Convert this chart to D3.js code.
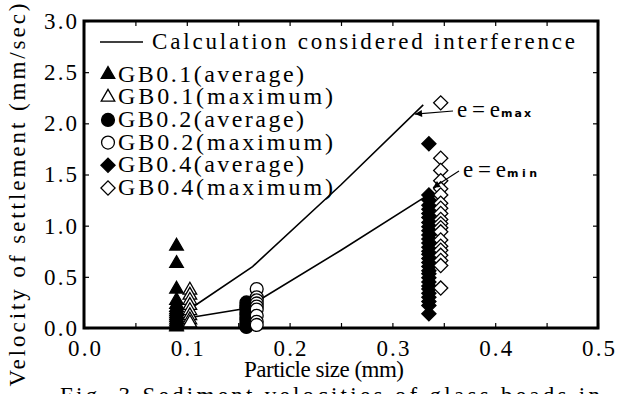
<!DOCTYPE html>
<html>
<head>
<meta charset="utf-8">
<script src="https://cdn.jsdelivr.net/npm/d3@7"></script>
<style>
    body { margin: 0; background: #fff; }
    svg { display: block; }
    svg text { font-family: "Liberation Serif", "Times New Roman", serif; fill: #000; }
</style>
</head>
<body>
<div id="chart"></div>
<script>
// settling velocities (mm/sec) per glass-bead group, each group plotted at one particle size (mm)
const gb01AvgSize = 0.09;
const gb01Avg = [0.80, 0.63, 0.38, 0.27, 0.23, 0.20, 0.18, 0.16, 0.14, 0.12, 0.10, 0.08, 0.06, 0.04, 0.02, 0.01];
const gb01MaxSize = 0.103;
const gb01Max = [0.37, 0.32, 0.27, 0.22, 0.17, 0.12, 0.08, 0.05];
const gb02AvgSize = 0.158;
const gb02Avg = [0.25, 0.22, 0.20, 0.18, 0.15, 0.13, 0.10, 0.08, 0.05, 0.03, 0.01];
const gb02MaxSize = 0.168;
const gb02Max = [0.38, 0.30, 0.27, 0.24, 0.21, 0.18, 0.12, 0.06, 0.03];
const gb04AvgSize = 0.3355;
const gb04Avg = [1.80, 1.30, 1.25, 1.20, 1.16, 1.12, 1.08, 1.03, 0.99, 0.95, 0.91, 0.87, 0.83, 0.79, 0.75,
    0.72, 0.68, 0.64, 0.60, 0.56, 0.53, 0.49, 0.45, 0.41, 0.38, 0.34, 0.30, 0.26, 0.22, 0.14];
const gb04MaxSize = 0.347;
const gb04Max = [2.20, 1.66, 1.54, 1.44, 1.36, 1.30, 1.22, 1.17, 1.12, 1.06, 1.02, 0.98, 0.94, 0.86, 0.80,
    0.76, 0.71, 0.66, 0.61, 0.39];

// calculated curves (interference considered)
const curveSizes = [0.108, 0.164, 0.25, 0.33];
const curveEmax = [0.22, 0.60, 1.40, 2.18];
const curveSizesMin = [0.108, 0.157, 0.25, 0.338];
const curveEmin = [0.11, 0.19, 0.76, 1.32];

const xTicks = [0, 0.05, 0.1, 0.15, 0.2, 0.25, 0.3, 0.35, 0.4, 0.45, 0.5];
const yTicks = [0, 0.5, 1.0, 1.5, 2.0, 2.5, 3.0];

const legendLabels = ["GB0.1(average)", "GB0.1(maximum)", "GB0.2(average)",
    "GB0.2(maximum)", "GB0.4(average)", "GB0.4(maximum)"];

const W = 617, H = 394;
const x = d3.scaleLinear().domain([0, 0.5]).range([84, 598]);
const y = d3.scaleLinear().domain([0, 3]).range([328, 21]);

const svg = d3.select("#chart")
    .append("svg")
    .attr("width", W)
    .attr("height", H);

const tri = d3.symbol().type(d3.symbolTriangle).size(80);
const circ = d3.symbol().type(d3.symbolCircle).size(130);
const sq = d3.symbol().type(d3.symbolSquare).size(100);

const groups = [
    { size: gb01AvgSize, vals: gb01Avg, path: tri(), rot: 0, filled: true },
    { size: gb01MaxSize, vals: gb01Max, path: tri(), rot: 0, filled: false },
    { size: gb02AvgSize, vals: gb02Avg, path: circ(), rot: 0, filled: true },
    { size: gb02MaxSize, vals: gb02Max, path: circ(), rot: 0, filled: false },
    { size: gb04AvgSize, vals: gb04Avg, path: sq(), rot: 45, filled: true },
    { size: gb04MaxSize, vals: gb04Max, path: sq(), rot: 45, filled: false }
];

// spread a text's letters out to a given width
function fit(sel, w) {
    sel.attr("lengthAdjust", "spacing").attr("textLength", w);
}

// ticks on all four sides, pointing inward
const fmt = d3.format(".1f");

svg.append("g")
    .attr("transform", `translate(0,${y(0)})`)
    .call(d3.axisBottom(x).tickValues(xTicks).tickSizeInner(-5).tickSizeOuter(0).tickPadding(12)
        .tickFormat(d => Math.round(d * 100) % 10 === 0 ? fmt(d) : ""));
svg.append("g")
    .attr("transform", `translate(0,${y(3)})`)
    .call(d3.axisTop(x).tickValues(xTicks).tickSizeInner(-5).tickSizeOuter(0).tickFormat(""));
svg.append("g")
    .attr("transform", `translate(${x(0)},0)`)
    .call(d3.axisLeft(y).tickValues(yTicks).tickSizeInner(-5).tickSizeOuter(0).tickPadding(7).tickFormat(fmt));
svg.append("g")
    .attr("transform", `translate(${x(0.5)},0)`)
    .call(d3.axisRight(y).tickValues(yTicks).tickSizeInner(-5).tickSizeOuter(0).tickFormat(""));

svg.selectAll(".domain").remove();
svg.selectAll(".tick line").attr("stroke", "#000").attr("stroke-width", 1.2);
svg.selectAll(".tick text")
    .style("font-size", "23px")
    .call(fit, 33);

svg.append("rect")
    .attr("x", x(0))
    .attr("y", y(3))
    .attr("width", x(0.5) - x(0))
    .attr("height", y(0) - y(3))
    .attr("fill", "none")
    .attr("stroke", "#000")
    .attr("stroke-width", 3);

// calculated curves
const line = d3.line().x(d => x(d[0])).y(d => y(d[1]));
svg.append("path")
    .datum(d3.zip(curveSizes, curveEmax))
    .attr("d", line)
    .attr("fill", "none")
    .attr("stroke", "#000")
    .attr("stroke-width", 1.6);
svg.append("path")
    .datum(d3.zip(curveSizesMin, curveEmin))
    .attr("d", line)
    .attr("fill", "none")
    .attr("stroke", "#000")
    .attr("stroke-width", 1.6);

// measured points
groups.forEach(g => {
    svg.append("g")
        .selectAll("path")
        .data(g.vals)
        .enter()
        .append("path")
        .attr("d", g.path)
        .attr("transform", d => `translate(${x(g.size)},${y(d)}) rotate(${g.rot})`)
        .attr("fill", g.filled ? "#000" : "#fff")
        .attr("stroke", "#000")
        .attr("stroke-width", 1.3);
});

// legend
svg.append("line")
    .attr("x1", 100).attr("x2", 143)
    .attr("y1", 42).attr("y2", 42)
    .attr("stroke", "#000")
    .attr("stroke-width", 1.3);
svg.append("text")
    .attr("x", 152)
    .attr("y", 49)
    .style("font-size", "23px")
    .text("Calculation considered interference")
    .call(fit, 423);

const legend = svg.selectAll(".legend")
    .data(legendLabels)
    .enter().append("g")
    .attr("class", "legend")
    .attr("transform", (d, i) => `translate(0,${81.5 + i * 22.7})`);

legend.append("path")
    .attr("d", (d, i) => groups[i].path)
    .attr("transform", (d, i) => `translate(108,-7) rotate(${groups[i].rot})`)
    .attr("fill", (d, i) => groups[i].filled ? "#000" : "#fff")
    .attr("stroke", "#000")
    .attr("stroke-width", 1.3);

legend.append("text")
    .attr("x", 118)
    .attr("y", 0)
    .style("font-size", "24px")
    .text(d => d)
    .each(function (d, i) { fit(d3.select(this), i % 2 === 0 ? 186 : 215); });

// curve annotations with arrows
svg.append("defs").append("marker")
    .attr("id", "arrow")
    .attr("viewBox", "0 0 10 10")
    .attr("refX", 10).attr("refY", 5)
    .attr("markerWidth", 10).attr("markerHeight", 7)
    .attr("markerUnits", "userSpaceOnUse")
    .attr("orient", "auto")
    .append("path")
    .attr("d", "M0,0L10,5L0,10Z")
    .attr("fill", "#000");

function note(tipX, tipY, tx, ty, sub) {
    svg.append("line")
        .attr("x1", tx - 4).attr("y1", ty - 6)
        .attr("x2", x(tipX)).attr("y2", y(tipY))
        .attr("stroke", "#000")
        .attr("stroke-width", 1.1)
        .attr("marker-end", "url(#arrow)");
    svg.append("text")
        .attr("x", tx)
        .attr("y", ty)
        .style("font-size", "23px")
        .text("e=e")
        .call(fit, 43);
    svg.append("text")
        .attr("x", tx + 44)
        .attr("y", ty)
        .style("font-family", "'DejaVu Sans', sans-serif")
        .style("font-size", "11px")
        .style("font-weight", "bold")
        .text(sub)
        .call(fit, 30);
}
note(0.322, 2.09, 457, 117, "max");
note(0.3395, 1.37, 463, 177, "min");

// axis titles
svg.append("text")
    .attr("transform", "translate(25,195) rotate(-90)")
    .attr("text-anchor", "middle")
    .style("font-size", "23px")
    .text("Velocity of settlement (mm/sec)")
    .call(fit, 383);

svg.append("text")
    .attr("x", 244)
    .attr("y", 377)
    .style("font-size", "23px")
    .text("Particle size (mm)")
    .call(fit, 160);

// figure caption, cut by the bottom edge
svg.append("text")
    .attr("x", 60)
    .attr("y", 403)
    .style("font-size", "23px")
    .text("Fig. 3 Sediment velocities of glass beads in")
    .call(fit, 540);
</script>
</body>
</html>
